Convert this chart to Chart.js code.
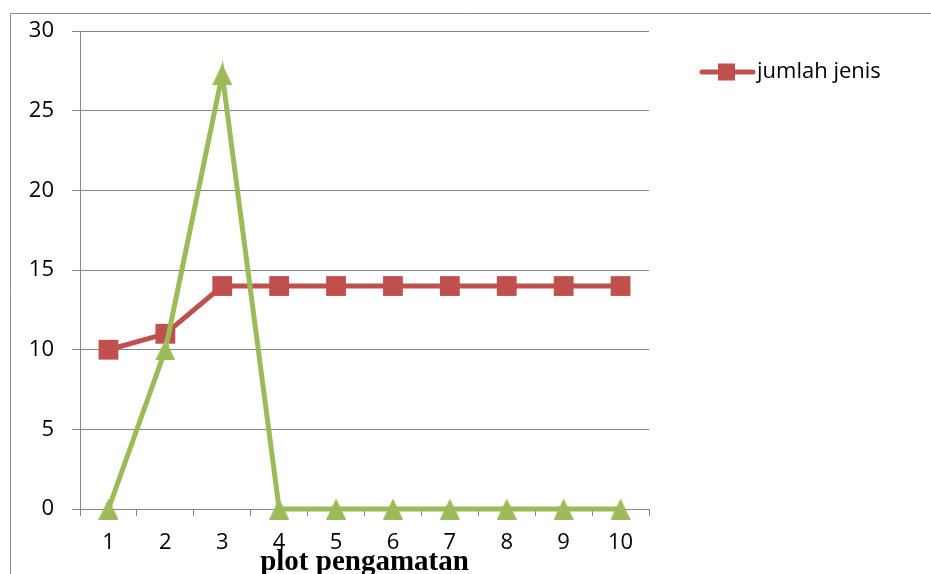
<!DOCTYPE html>
<html>
<head>
<meta charset="utf-8">
<script src="https://cdn.jsdelivr.net/npm/chart.js@4/dist/chart.umd.min.js"></script>
<style>
  html, body { margin: 0; padding: 0; background: #fff; }
  #wrap { width: 931px; height: 574px; }
</style>
</head>
<body>
<div id="wrap"><canvas id="c" width="931" height="574"></canvas></div>
<script>
// observation plots on the x axis
const categories = ['1', '2', '3', '4', '5', '6', '7', '8', '9', '10'];
// number of species per plot
const jumlahJenis = [10, 11, 14, 14, 14, 14, 14, 14, 14, 14];
// second series (green triangles)
const seriesHijau = [0, 10, 27.3, 0, 0, 0, 0, 0, 0, 0];
const yTicks = [0, 5, 10, 15, 20, 25, 30];

const RED = '#C0504D';
const GREEN = '#9BBB59';
const GRID = '#868686';
const FONT = '"Open Sans", "Liberation Sans", sans-serif';

// triangle marker whose bounding box is centred on the data point
function triangleMarker(color, w, h) {
  const cv = document.createElement('canvas');
  cv.width = w;
  cv.height = h;
  const g = cv.getContext('2d');
  g.fillStyle = color;
  g.beginPath();
  g.moveTo(0, h);
  g.lineTo(w / 2, 0);
  g.lineTo(w, h);
  g.closePath();
  g.fill();
  return cv;
}

// thin frame around the figure (top and left edges)
const framePlugin = {
  id: 'frame',
  beforeDraw(chart) {
    const ctx = chart.ctx;
    ctx.save();
    ctx.strokeStyle = '#8c8c8c';
    ctx.lineWidth = 1;
    ctx.beginPath();
    ctx.moveTo(10.5, 574);
    ctx.lineTo(10.5, 13.5);
    ctx.lineTo(931, 13.5);
    ctx.stroke();
    ctx.restore();
  }
};

// legend with only the first series, placed to the right of the plot
const legendPlugin = {
  id: 'sideLegend',
  afterDraw(chart) {
    const ds = chart.data.datasets[0];
    const ctx = chart.ctx;
    const y = 72;
    ctx.save();
    ctx.strokeStyle = ds.borderColor;
    ctx.lineWidth = 5;
    ctx.lineCap = 'round';
    ctx.beginPath();
    ctx.moveTo(702, y);
    ctx.lineTo(753, y);
    ctx.stroke();
    ctx.fillStyle = ds.pointBackgroundColor;
    ctx.fillRect(718, y - 8.5, 17, 17);
    ctx.fillStyle = '#000';
    ctx.font = '22px ' + FONT;
    ctx.textBaseline = 'middle';
    ctx.textAlign = 'left';
    ctx.fillText(ds.label, 757, y);
    ctx.restore();
  }
};

new Chart(document.getElementById('c'), {
  type: 'line',
  data: {
    labels: categories,
    datasets: [
      {
        label: 'jumlah jenis',
        data: jumlahJenis,
        borderColor: RED,
        backgroundColor: RED,
        pointBackgroundColor: RED,
        pointBorderColor: RED,
        borderWidth: 5,
        pointStyle: 'rect',
        pointRadius: 14,
        pointBorderWidth: 0,
        tension: 0,
        clip: false,
        order: 1
      },
      {
        label: 'seri 2',
        data: seriesHijau,
        borderColor: GREEN,
        backgroundColor: GREEN,
        pointBackgroundColor: GREEN,
        pointBorderColor: GREEN,
        borderWidth: 5,
        pointStyle: triangleMarker(GREEN, 20, 21),
        pointRadius: 11,
        pointBorderWidth: 0,
        tension: 0,
        clip: false,
        order: 0
      }
    ]
  },
  options: {
    responsive: false,
    animation: false,
    events: [],
    layout: { padding: { left: 0, top: 30, right: 282, bottom: 0 } },
    plugins: {
      legend: { display: false },
      tooltip: { enabled: false }
    },
    scales: {
      x: {
        offset: true,
        grid: {
          offset: true,
          drawOnChartArea: false,
          drawTicks: true,
          tickLength: 7,
          color: GRID,
          lineWidth: 1
        },
        border: { color: GRID, width: 1 },
        ticks: {
          color: '#000',
          font: { family: FONT, size: 22 },
          padding: 14,
          maxRotation: 0
        },
        title: {
          display: true,
          text: 'plot pengamatan',
          color: '#000',
          font: { family: '"Liberation Serif", "Times New Roman", serif', size: 29, weight: 'bold' },
          padding: { top: 0, bottom: -6 }
        },
        afterFit(scale) { scale.height = 65; }
      },
      y: {
        min: 0,
        max: 30,
        afterBuildTicks(scale) { scale.ticks = yTicks.map(v => ({ value: v })); },
        grid: {
          color: GRID,
          lineWidth: 1,
          tickLength: 8,
          drawTicks: true
        },
        border: { color: GRID, width: 1 },
        ticks: {
          color: '#000',
          font: { family: FONT, size: 22 },
          padding: 18
        },
        afterFit(scale) { scale.width = 80; }
      }
    }
  },
  plugins: [framePlugin, legendPlugin]
});
</script>
</body>
</html>
